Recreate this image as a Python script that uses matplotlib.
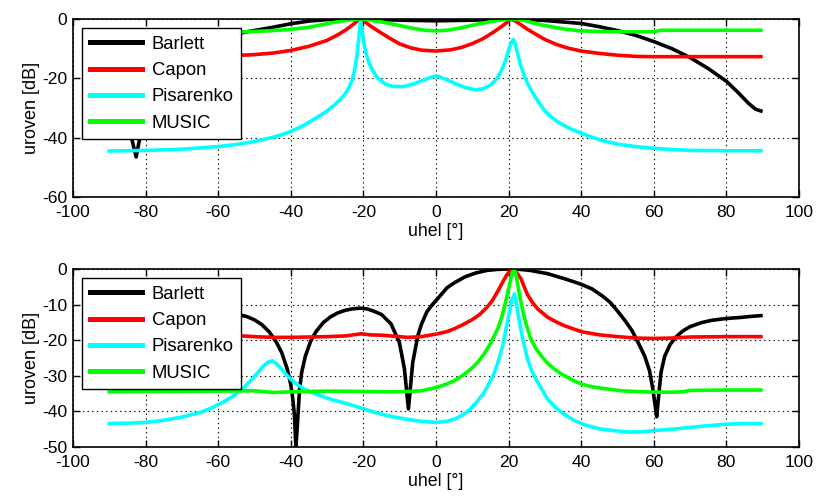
import matplotlib
matplotlib.use("Agg")
import matplotlib.pyplot as plt

plt.rcParams['font.family'] = ['Liberation Sans', 'DejaVu Sans']
plt.rcParams['axes.unicode_minus'] = False

# ---------------- upper panel: two sources ----------------
top_bartlett_deg = [-90, -88, -86, -84.5, -83.3, -82.6, -81.9, -80.5, -78, -75, -70, -65, -60, -55, -52,
                    -45, -40, -35, -30, -25, -20, -10, 0, 10, 20, 25, 30, 35, 40, 45, 50, 55, 60,
                    65, 70, 75, 80, 83, 86, 88, 89.5]
top_bartlett_db = [-22, -26, -31, -37, -43, -46.5, -42, -34, -26, -19, -13, -9, -6.8, -5.0, -4.3,
                   -2.8, -1.6, -0.7, -0.2, -0.1, 0, -0.4, -0.6, -0.4, 0, -0.1, -0.5, -1.0, -1.5, -2.6, -3.9, -5.5, -7.6,
                   -10.0, -13.0, -16.7, -21.0, -24.5, -28.3, -30.4, -31.0]

top_capon_deg = [-90, -70, -55, -50, -45, -40, -35, -30, -27, -25, -23, -21.8, -20.7, -19.5, -18, -16,
                 -13, -10, -7, -4, 0, 4, 7, 10, 13, 16, 18, 19.5, 20.7, 22, 23.5, 25, 27, 30, 33,
                 36, 40, 45, 50, 55, 60, 70, 80, 89.5]
top_capon_db = [-12.5, -12.4, -12.3, -12.0, -11.5, -10.6, -9.2, -7.2, -5.3, -3.8, -2.0, -0.8, 0, -1.0, -2.4, -4.0,
                -6.3, -8.4, -9.7, -10.5, -10.8, -10.4, -9.6, -8.3, -6.6, -4.3, -2.6, -1.2, 0, -0.8, -2.0, -3.3, -4.8, -6.9, -8.5,
                -9.7, -10.8, -11.6, -12.2, -12.6, -12.7, -12.7, -12.7, -12.7]

top_pisarenko_deg = [-90, -80, -70, -60, -55, -50, -45, -42, -40, -37, -35, -32, -30, -28, -26.5, -25,
                     -24, -23, -22.3, -21.7, -21.2, -20.8, -20.3, -19.8, -19.2, -18.5, -17.5, -16, -14,
                     -12, -9, -6, -3, -1, 0, 1, 3, 5, 8, 11, 13, 15, 16.5, 18, 19.2, 20.2, 20.8, 21.3,
                     21.8, 22.5, 23.3, 24.2, 25.2, 26.5, 28, 30, 32, 34, 37, 40, 45, 50, 55, 60, 65, 70,
                     80, 89.5]
top_pisarenko_db = [-44.5, -44.3, -43.9, -43.0, -42.3, -41.3, -39.9, -38.8, -37.9, -36.2, -34.8, -32.6, -31.0, -29.0, -27.3, -25.2,
                    -23.2, -20.2, -16.5, -11.5, -5.5, -0.8, -4.5, -8.5, -11.8, -14.6, -17.3, -20.0, -21.9,
                    -22.7, -22.8, -21.8, -20.4, -19.5, -19.2, -19.5, -20.5, -21.6, -23.1, -23.9, -23.5, -22.3, -20.5, -17.5, -13.8, -9.8, -7.8, -6.9,
                    -8.5, -11.8, -15.5, -18.8, -21.7, -24.6, -27.6, -31.0, -33.3, -35.0, -37.0, -38.5, -40.7, -42.2, -43.0, -43.6, -44.0, -44.3,
                    -44.4, -44.4]

top_music_deg = [-90, -70, -55, -50, -45, -40, -35, -30, -27, -25, -23, -21.5, -20.6, -19, -17, -15, -12,
                 -9, -6, -3, 0, 3, 6, 9, 12, 15, 17.5, 19.5, 21, 23, 25, 27, 30, 33, 36, 40, 45,
                 50, 55, 60, 62, 70, 80, 89.5]
top_music_db = [-4.6, -4.5, -4.4, -4.2, -3.9, -3.5, -2.8, -1.6, -0.9, -0.5, -0.2, -0.05, 0, -0.2, -0.6, -1.0, -1.7,
                -2.5, -3.2, -3.8, -4.0, -3.8, -3.2, -2.4, -1.6, -0.9, -0.4, -0.1, 0, -0.2, -0.7, -1.4, -2.2, -2.9, -3.5, -4.0, -4.2,
                -4.3, -4.3, -4.3, -3.8, -3.8, -3.8, -3.8]

# ---------------- lower panel: one source ----------------
bot_bartlett_deg = [-90, -85, -80, -75, -70, -65, -60, -56, -52, -50, -48, -46, -44, -42.5, -41, -40,
                    -39.5, -39, -38.6, -38.2, -37.6, -37, -36, -34.5, -33, -31, -29, -27, -25, -23,
                    -21, -19, -17, -15, -12.4, -10.1, -8.7, -7.6, -6.4, -5, -4, -2.5, -1, 1, 3, 5,
                    8, 11, 14, 17, 20, 22, 24, 26, 28, 30.7, 32, 35.3, 38, 40, 43, 46, 48, 50, 52,
                    54, 56, 57.5, 58.8, 59.7, 60.4, 60.8, 61.3, 62, 63, 64.5, 66, 68, 70, 73, 76, 80,
                    84, 87, 89.5]
bot_bartlett_db = [-17.0, -15.8, -14.7, -13.6, -12.8, -12.2, -12.0, -12.4, -13.4, -14.3, -15.6, -17.6, -20.5, -23.5, -28.0, -32.5,
                   -36.0, -41.0, -50.0, -44.0, -34.0, -29.0, -24.5, -20.2, -17.5, -15.0, -13.4, -12.3, -11.6, -11.2,
                   -11.0, -11.2, -11.9, -12.8, -15.4, -20.6, -28.0, -39.3, -26.2, -18.7, -15.5, -12.0, -10.0, -7.7, -5.3, -3.9,
                   -2.2, -1.1, -0.4, -0.1, 0, 0, -0.2, -0.4, -0.8, -1.3, -1.7, -2.7, -3.6, -4.3, -5.6, -7.7, -9.4, -11.8, -14.4,
                   -17.3, -21.3, -24.5, -28.5, -33.5, -38.5, -41.5, -36.0, -29.0, -24.5, -21.2, -19.2, -17.4, -16.2, -15.1, -14.4, -13.9,
                   -13.6, -13.3, -13.1]

bot_capon_deg = [-90, -70, -55, -50, -45, -40, -35, -30, -25, -20.6, -18, -15, -10, -7.8, -4, 0, 3, 5,
                 7.5, 10, 12, 14, 15.5, 17, 18.2, 19.3, 20.2, 20.8, 21.5, 22.2, 23.4, 24.3, 25.2, 26.5,
                 28, 30.7, 33, 35.3, 40, 45, 50, 55, 60, 65, 70, 80, 89.5]
bot_capon_db = [-18.9, -18.8, -18.7, -19.0, -19.2, -19.2, -19.1, -19.0, -18.8, -18.2, -18.5, -18.6, -19.0, -19.2, -19.0, -18.3, -17.6, -16.8,
                -15.6, -14.2, -12.8, -10.8, -8.9, -6.3, -4.0, -2.0, -0.7, 0, -0.3, -1.0, -2.7, -5.0, -7.2, -9.3,
                -11.2, -13.5, -14.8, -15.9, -17.6, -18.5, -19.0, -19.4, -19.5, -19.4, -19.1, -19.0, -19.0]

bot_pisarenko_deg = [-90, -85, -80, -75, -70, -65, -62, -59, -56, -53, -51, -49, -47.5, -46.3, -45.2, -44.2,
                     -43, -41.5, -40, -38, -36, -33.5, -31, -29, -26, -22, -18, -15, -12, -8, -4, 0, 3, 5,
                     7, 9, 11, 13, 14.5, 16, 17.2, 18.3, 19.3, 20.2, 20.8, 21.6, 22.2, 22.8, 23.5, 24.2,
                     25.2, 26.5, 28, 30.7, 33, 35.3, 38, 41, 45, 50, 53, 57, 60, 65, 70, 75, 80, 85, 89.5]
bot_pisarenko_db = [-43.4, -43.3, -43.1, -42.5, -41.6, -40.3, -39.1, -37.6, -35.8, -33.4, -31.3, -29.0, -27.2, -26.2, -25.8, -26.4,
                    -27.6, -29.4, -31.0, -32.6, -33.9, -35.0, -35.9, -36.6, -37.4, -38.6, -39.9, -40.8, -41.5, -42.2, -42.8, -43.1, -42.8, -42.2,
                    -41.2, -39.8, -37.6, -35.1, -32.4, -29.3, -25.8, -21.9, -16.8, -12.3, -9.0, -7.0, -10.0, -13.8, -17.6, -21.0,
                    -25.3, -28.9, -31.8, -36.5, -39.0, -40.8, -42.5, -43.8, -44.9, -45.5, -45.8, -45.7, -45.4, -45.0, -44.5, -44.0, -43.6, -43.4, -43.4]

bot_music_deg = [-90, -70, -50, -45, -40, -30, -20, -12, -8, -4, 0, 3, 5, 7.5, 9.6, 11.5, 13.3, 14.8,
                 16.1, 17.2, 18.2, 19.1, 19.9, 20.6, 21.1, 21.6, 22.1, 22.7, 23.4, 24.1, 24.8, 25.5,
                 26.1, 27.5, 28.9, 30.7, 32.6, 34.4, 36.2, 38, 40, 43, 46.4, 51, 55, 60, 65, 68, 70,
                 80, 89.5]
bot_music_db = [-34.5, -34.4, -34.2, -34.7, -34.5, -34.3, -34.4, -34.5, -34.4, -34.2, -33.3, -32.3, -31.4, -29.8, -28.1, -26.2, -23.8, -21.3,
                -18.7, -16.3, -13.2, -9.6, -6.0, -2.8, -0.8, 0, -2.0, -5.5, -9.3, -12.6, -15.4, -17.6,
                -19.6, -22.3, -24.3, -26.4, -28.1, -29.4, -30.4, -31.4, -32.3, -33.1, -33.6, -34.2, -34.4, -34.6, -34.6, -34.5, -34.1,
                -34.0, -34.0]

names = ['Barlett', 'Capon', 'Pisarenko', 'MUSIC']
colors = ['#000000', '#ff0000', '#00ffff', '#00ff00']

top_series = [(top_bartlett_deg, top_bartlett_db), (top_capon_deg, top_capon_db),
              (top_pisarenko_deg, top_pisarenko_db), (top_music_deg, top_music_db)]
bot_series = [(bot_bartlett_deg, bot_bartlett_db), (bot_capon_deg, bot_capon_db),
              (bot_pisarenko_deg, bot_pisarenko_db), (bot_music_deg, bot_music_db)]

W, H = 817, 496
fig = plt.figure(figsize=(W / 100, H / 100), dpi=100)

ax_top = fig.add_axes([73 / W, 1 - 197 / H, (799 - 73) / W, (197 - 19) / H])
ax_bot = fig.add_axes([73 / W, 1 - 447 / H, (799 - 73) / W, (447 - 269) / H])


def style_axes(ax, yticks):
    ax.set_xlim(-100, 100)
    ax.set_ylim(yticks[0], yticks[-1])
    ax.set_xticks(range(-100, 101, 20))
    ax.set_yticks(yticks)
    ax.grid(True, color='black', linestyle=(0, (1.2, 3)), linewidth=0.8)
    ax.tick_params(direction='in', top=True, right=True, length=5, width=1,
                   labelsize=12.6)
    ax.tick_params(axis='x', pad=6)
    ax.tick_params(axis='y', pad=4)
    for sp in ax.spines.values():
        sp.set_linewidth(1.2)
        sp.set_color('black')
    ax.set_xlabel('uhel [°]', fontsize=12.8, labelpad=2)
    ax.set_ylabel('uroven [dB]', fontsize=13, labelpad=2)
    ax.set_axisbelow(True)


def draw(ax, series):
    for (deg, db), name, col in zip(series, names, colors):
        ax.plot(deg, db, color=col, linewidth=2.6, label=name, solid_joinstyle='round')
    leg = ax.legend(loc='upper left', bbox_to_anchor=(0.0124, 0.949), borderaxespad=0,
                    fontsize=13.3, frameon=True, fancybox=False, framealpha=1,
                    edgecolor='black', handlelength=2.85, handletextpad=0.5,
                    labelspacing=0.5, borderpad=0.42)
    leg.get_frame().set_linewidth(1.0)
    for line in leg.get_lines():
        line.set_linewidth(3.6)


draw(ax_top, top_series)
style_axes(ax_top, [-60, -40, -20, 0])
draw(ax_bot, bot_series)
style_axes(ax_bot, [-50, -40, -30, -20, -10, 0])

fig.savefig('out.png', dpi=100)
